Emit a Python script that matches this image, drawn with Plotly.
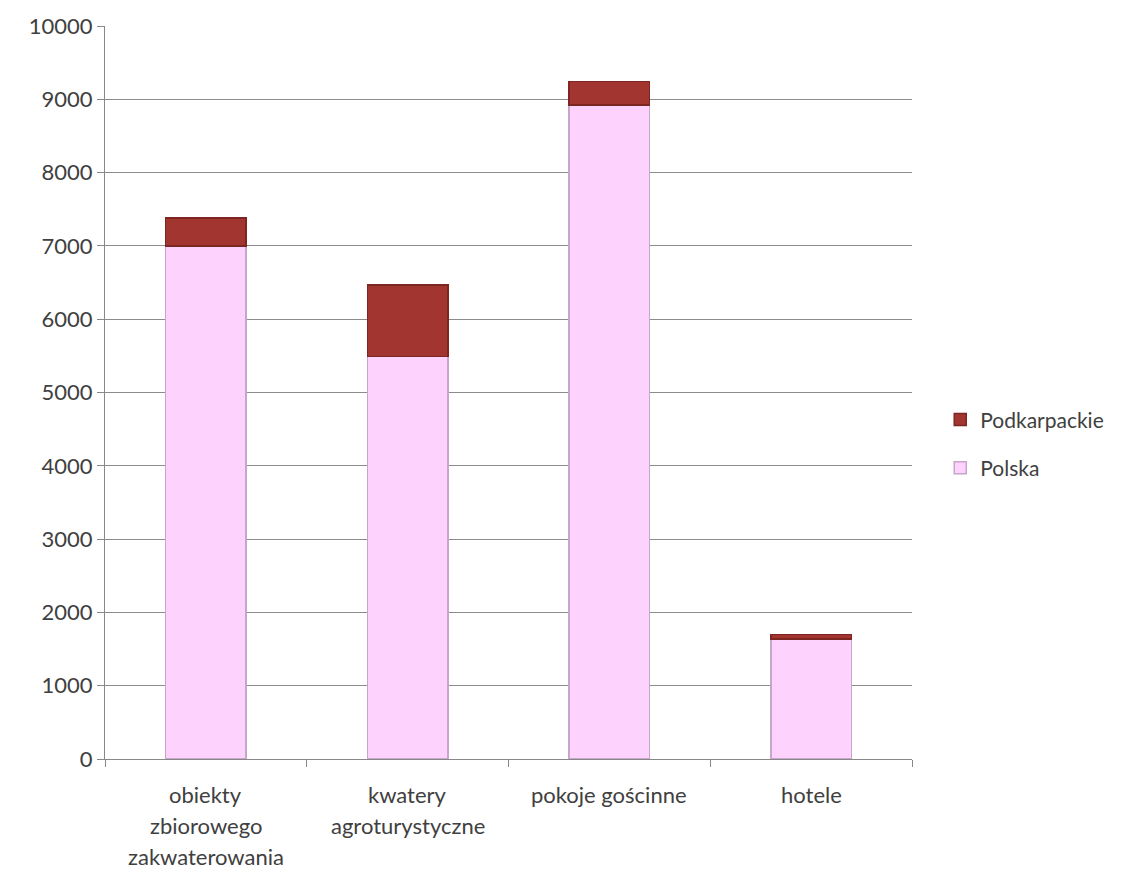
import plotly.graph_objects as go

categories = ["obiekty zbiorowego zakwaterowania", "kwatery agroturystyczne", "pokoje gościnne", "hotele"]
category_lines = [["obiekty", "zbiorowego", "zakwaterowania"], ["kwatery", "agroturystyczne"], ["pokoje gościnne"], ["hotele"]]
polska = [7000, 5490, 8920, 1640]
podkarpackie = [380, 980, 320, 60]
y_ticks = [0, 1000, 2000, 3000, 4000, 5000, 6000, 7000, 8000, 9000, 10000]
y_tick_text = ["0", "1000", "2000", "3000", "4000", "5000", "6000", "7000", "8000", "9000", "10000"]

FONT = "Lato, 'Open Sans', sans-serif"
TXT = "#404040"
FS = 22

fig = go.Figure()
fig.add_trace(go.Bar(
    x=categories, y=polska, name="Polska", legendgroup="a", legendrank=2,
    marker=dict(color="#FDD2FD", line=dict(color="#C7A6CB", width=1.5)),
    width=0.4,
))
fig.add_trace(go.Bar(
    x=categories, y=podkarpackie, name="Podkarpackie", legendgroup="b", legendrank=1,
    marker=dict(color="#A2352F", line=dict(color="#7E2622", width=1.5)),
    width=0.4,
))

annotations = []
for cat, lines in zip(categories, category_lines):
    for i, line in enumerate(lines):
        annotations.append(dict(
            x=cat, y=0, xref="x", yref="y", text=line, showarrow=False,
            yanchor="middle", xanchor="center", yshift=-(35 + 31 * i),
            font=dict(family=FONT, size=FS, color=TXT),
        ))

fig.update_layout(
    barmode="stack",
    width=1125, height=869,
    margin=dict(l=105, r=213, t=24, b=110),
    paper_bgcolor="white", plot_bgcolor="white",
    font=dict(family=FONT, size=FS, color=TXT),
    showlegend=True,
    legend=dict(x=1.035, y=0.43, xanchor="left", yanchor="middle",
                font=dict(family=FONT, size=21, color=TXT),
                tracegroupgap=18, traceorder="grouped"),
    annotations=annotations,
    bargap=0.6,
)
fig.update_xaxes(
    showticklabels=False, ticks="outside", ticklen=7, tickcolor="#888",
    showline=True, linecolor="#888", linewidth=1,
    tickson="boundaries", showgrid=False,
)
fig.update_yaxes(
    range=[0, 10000], tickvals=y_ticks, ticktext=y_tick_text,
    ticks="outside", ticklen=7, tickcolor="#888",
    showline=True, linecolor="#888", linewidth=1,
    showgrid=True, gridcolor="#8C8C8C", gridwidth=1, zeroline=False,
    tickfont=dict(family=FONT, size=FS, color=TXT),
)

fig.write_html("out.html")
